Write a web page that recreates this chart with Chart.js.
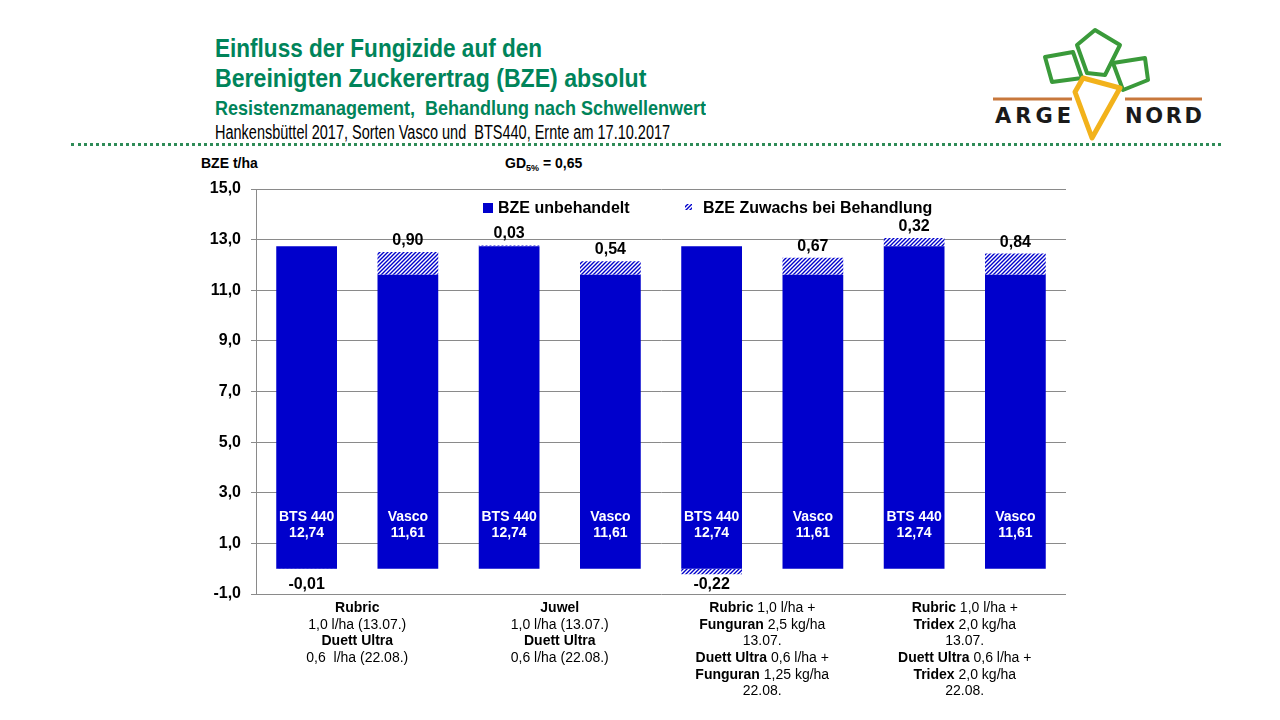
<!DOCTYPE html>
<html>
<head>
    <meta charset="utf-8">
    <title>BZE Fungizide Hankensbüttel 2017</title>
    <script src="https://cdn.jsdelivr.net/npm/chart.js"></script>
    <style>
        body { margin: 0; width: 1280px; height: 720px; background: #fff; position: relative; overflow: hidden;
               font-family: "Liberation Sans", Arial, sans-serif; }
        .t { position: absolute; left: 215px; white-space: nowrap; font-weight: bold; line-height: 1; transform-origin: 0 0; }
        .green { color: #00845a; }
        #sep { position: absolute; left: 71px; top: 143px; width: 1150px; height: 0; border-top: 3px dotted #2e8b57; }
        #logo { position: absolute; left: 985px; top: 20px; }
    </style>
</head>
<body>
    <div class="t green fit" data-w="327" style="top:35px;font-size:26px">Einfluss der Fungizide auf den</div>
    <div class="t green fit" data-w="431" style="top:65px;font-size:26px">Bereinigten Zuckerertrag (BZE) absolut</div>
    <div class="t green fit" data-w="491" style="top:97px;font-size:21px">Resistenzmanagement,&nbsp; Behandlung nach Schwellenwert</div>
    <div class="t fit" data-w="455" style="top:123px;font-size:19.5px;font-weight:normal;color:#000">Hankensbüttel 2017, Sorten Vasco und&nbsp; BTS440, Ernte am 17.10.2017</div>
    <div id="sep"></div>
    <div class="t" style="left:201px;top:156px;font-size:14px">BZE t/ha</div>
    <div class="t" style="left:505px;top:156px;font-size:14px">GD<sub style="font-size:9px;vertical-align:-3px">5%</sub> = 0,65</div>

    <svg id="logo" width="225" height="125" viewBox="985 20 225 125">
        <g fill="none" stroke="#3a9a3a" stroke-width="4" stroke-linejoin="round">
            <polygon points="1045,57 1073,52 1082,78 1052,82"/>
            <polygon points="1077,45 1095,30 1120,45 1105,75 1087,73"/>
            <polygon points="1113,63 1145,58 1148,80 1123,90"/>
        </g>
        <g stroke="#c8783c" stroke-width="3">
            <line x1="993" y1="99" x2="1072" y2="99"/>
            <line x1="1125" y1="99" x2="1202" y2="99"/>
        </g>
        <polygon points="1075,92 1083,78 1120,88 1092,138" fill="none" stroke="#f2b21b" stroke-width="5" stroke-linejoin="round"/>
        <text x="995" y="123" font-family="DejaVu Sans" font-weight="bold" font-size="21" textLength="76" fill="#1a1a1a">ARGE</text>
        <text x="1125" y="123" font-family="DejaVu Sans" font-weight="bold" font-size="21" textLength="77" fill="#1a1a1a">NORD</text>
    </svg>

    <canvas id="bzeChart" width="1280" height="720" style="position:absolute;left:0;top:0"></canvas>

    <script>
        // Sorten je Balken
        const categories = ['BTS 440', 'Vasco', 'BTS 440', 'Vasco', 'BTS 440', 'Vasco', 'BTS 440', 'Vasco'];
        // BZE unbehandelt (t/ha)
        const untreated = [12.74, 11.61, 12.74, 11.61, 12.74, 11.61, 12.74, 11.61];
        // BZE Zuwachs bei Behandlung (t/ha)
        const gain = [-0.01, 0.90, 0.03, 0.54, -0.22, 0.67, 0.32, 0.84];
        // y-Achse
        const yMin = -1, yMax = 15, yStep = 2;
        // Varianten (je 2 Balken), Zeilen als [Text, fett]
        const variants = [
            [[['Rubric', 1]], [['1,0 l/ha (13.07.)', 0]], [['Duett Ultra', 1]], [['0,6  l/ha (22.08.)', 0]]],
            [[['Juwel', 1]], [['1,0 l/ha (13.07.)', 0]], [['Duett Ultra', 1]], [['0,6 l/ha (22.08.)', 0]]],
            [[['Rubric', 1], [' 1,0 l/ha +', 0]], [['Funguran', 1], [' 2,5 kg/ha', 0]], [['13.07.', 0]],
             [['Duett Ultra', 1], [' 0,6 l/ha +', 0]], [['Funguran', 1], [' 1,25 kg/ha', 0]], [['22.08.', 0]]],
            [[['Rubric', 1], [' 1,0 l/ha +', 0]], [['Tridex', 1], [' 2,0 kg/ha', 0]], [['13.07.', 0]],
             [['Duett Ultra', 1], [' 0,6 l/ha +', 0]], [['Tridex', 1], [' 2,0 kg/ha', 0]], [['22.08.', 0]]]
        ];

        const BLUE = '#0000cc';
        const FONT = '"Liberation Sans", Arial, sans-serif';
        const fmt = (v, d) => v.toFixed(d).replace('.', ',');

        // narrow title lines like the slide
        document.querySelectorAll('.fit').forEach(el => {
            el.style.transform = 'scaleX(' + (el.dataset.w / el.offsetWidth) + ')';
        });

        // diagonal hatch
        function makeHatch() {
            const c = document.createElement('canvas');
            c.width = 4; c.height = 4;
            const g = c.getContext('2d');
            g.fillStyle = '#fff';
            g.fillRect(0, 0, 4, 4);
            g.strokeStyle = BLUE;
            g.lineWidth = 1.4;
            g.beginPath();
            g.moveTo(-1, 5); g.lineTo(5, -1);
            g.moveTo(-1, 1); g.lineTo(1, -1);
            g.moveTo(3, 5); g.lineTo(5, 3);
            g.stroke();
            return g.createPattern(c, 'repeat');
        }
        const hatch = makeHatch();

        const labelPlugin = {
            id: 'labels',
            afterDatasetsDraw(chart) {
                const ctx = chart.ctx;
                const y = chart.scales.y;
                const x = chart.scales.x;
                const base = chart.getDatasetMeta(0).data;
                const inc = chart.getDatasetMeta(1).data;
                const y0 = y.getPixelForValue(0);
                ctx.save();
                ctx.textAlign = 'center';

                // Sorte + Wert im Balken
                ctx.fillStyle = '#fff';
                ctx.font = 'bold 14px ' + FONT;
                ctx.textBaseline = 'middle';
                base.forEach((el, i) => {
                    ctx.fillText(categories[i], el.x, y.getPixelForValue(2.05));
                    ctx.fillText(fmt(untreated[i], 2), el.x, y.getPixelForValue(1.4));
                });

                // Zuwachs
                ctx.fillStyle = '#000';
                ctx.font = 'bold 16px ' + FONT;
                inc.forEach((el, i) => {
                    const v = gain[i];
                    if (v >= 0) {
                        ctx.textBaseline = 'alphabetic';
                        ctx.fillText(fmt(v, 2), el.x, el.y - 7);
                    } else {
                        ctx.textBaseline = 'top';
                        ctx.fillText(fmt(v, 2), el.x, y0 + 8);
                    }
                });

                // Varianten unter der Achse
                ctx.textBaseline = 'middle';
                ctx.textAlign = 'left';
                variants.forEach((lines, g) => {
                    const cx = (x.getPixelForValue(2 * g) + x.getPixelForValue(2 * g + 1)) / 2;
                    lines.forEach((parts, li) => {
                        let w = 0;
                        parts.forEach(p => {
                            ctx.font = (p[1] ? 'bold ' : '') + '14px ' + FONT;
                            w += ctx.measureText(p[0]).width;
                        });
                        let px = cx - w / 2;
                        const py = chart.chartArea.bottom + 14 + li * 16.7;
                        parts.forEach(p => {
                            ctx.font = (p[1] ? 'bold ' : '') + '14px ' + FONT;
                            ctx.fillText(p[0], px, py);
                            px += ctx.measureText(p[0]).width;
                        });
                    });
                });

                // Legende
                const a = chart.chartArea;
                const ly = a.top + 20;
                ctx.font = 'bold 16px ' + FONT;
                ctx.fillStyle = BLUE;
                ctx.fillRect(a.left + 227, ly - 6, 10, 10);
                ctx.fillStyle = hatch;
                ctx.fillRect(a.left + 429, ly - 5, 7, 6);
                ctx.fillStyle = '#000';
                ctx.fillText('BZE unbehandelt', a.left + 242, ly);
                ctx.fillText('BZE Zuwachs bei Behandlung', a.left + 447, ly);
                ctx.restore();
            }
        };

        const ctx = document.getElementById('bzeChart').getContext('2d');
        const chart = new Chart(ctx, {
            type: 'bar',
            data: {
                labels: categories,
                datasets: [
                    {
                        label: 'BZE unbehandelt',
                        data: untreated,
                        backgroundColor: BLUE,
                        borderWidth: 0
                    },
                    {
                        label: 'BZE Zuwachs bei Behandlung',
                        data: gain,
                        backgroundColor: hatch,
                        borderWidth: 0
                    }
                ]
            },
            options: {
                responsive: false,
                animation: false,
                layout: { padding: { left: 196, right: 214, top: 189, bottom: 126 } },
                datasets: { bar: { barPercentage: 0.6, categoryPercentage: 1.0 } },
                plugins: {
                    legend: { display: false },
                    tooltip: { enabled: false }
                },
                scales: {
                    x: {
                        stacked: true,
                        display: false
                    },
                    y: {
                        stacked: true,
                        min: yMin,
                        max: yMax,
                        afterFit: s => { s.width = 60; },
                        ticks: {
                            stepSize: yStep,
                            color: '#000',
                            padding: 10,
                            font: { family: FONT, size: 16, weight: 'bold' },
                            callback: v => fmt(v, 1)
                        },
                        grid: { color: '#8a8a8a', lineWidth: 1, tickLength: 5 },
                        border: { color: '#8a8a8a' }
                    }
                }
            },
            plugins: [labelPlugin]
        });
    </script>
</body>
</html>
